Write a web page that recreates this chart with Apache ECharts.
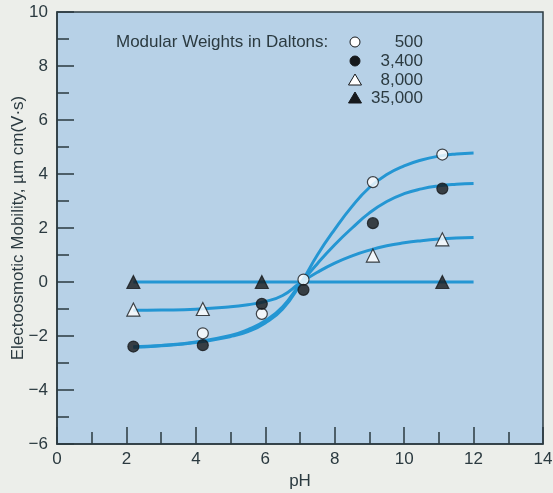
<!DOCTYPE html>
<html>
<head>
<meta charset="utf-8">
<script src="https://cdn.jsdelivr.net/npm/echarts@6/dist/echarts.min.js"></script>
<style>
  html, body { margin: 0; padding: 0; background: #eceeea; }
  #chart { width: 553px; height: 493px; }
</style>
</head>
<body>
<div id="chart"></div>
<script>
// Molecular weight groups (Daltons)
const weightLabels = ['500', '3,400', '8,000', '35,000'];

// Measured electroosmotic mobility vs pH, one list per weight
const points500   = [[4.2, -1.9], [5.9, -1.18], [7.1, 0.09], [9.1, 3.7], [11.1, 4.72]];
const points3400  = [[2.2, -2.39], [4.2, -2.34], [5.9, -0.81], [7.1, -0.29], [9.1, 2.18], [11.1, 3.46]];
const points8000  = [[2.2, -1.02], [4.2, -1.0], [9.1, 0.98], [11.1, 1.58]];
const points35000 = [[2.2, 0], [5.9, 0], [11.1, 0]];

// Fitted curves, sampled at these pH values
const curvePH    = [2.2, 3, 4, 5, 5.5, 6, 6.5, 7, 7.5, 8, 8.5, 9, 9.5, 10, 10.5, 11, 11.5, 12];
const curve500   = [-2.42, -2.36, -2.24, -2.02, -1.84, -1.52, -1.0, -0.1, 1.0, 1.95, 2.8, 3.5, 3.98, 4.3, 4.52, 4.66, 4.74, 4.78];
const curve3400  = [-2.4, -2.35, -2.22, -1.98, -1.76, -1.44, -0.92, -0.08, 0.68, 1.38, 2.0, 2.56, 2.98, 3.27, 3.45, 3.56, 3.62, 3.65];
const curve8000  = [-1.05, -1.04, -1.01, -0.92, -0.84, -0.72, -0.5, -0.04, 0.36, 0.7, 0.97, 1.18, 1.34, 1.45, 1.53, 1.59, 1.63, 1.65];
const curve35000PH = [2.2, 12];
const curve35000 = [0, 0];

// Axis tick values
const xTicks = [0, 2, 4, 6, 8, 10, 12, 14];
const yTicks = [-6, -4, -2, 0, 2, 4, 6, 8, 10];

const FONT = '"Liberation Sans", Arial, Helvetica, sans-serif';
const INK = '#2b3a40';
const CURVE = '#2496d3';
const DARK = '#16191c';

const zip = (xs, ys) => xs.map((x, i) => [x, ys[i]]);
const minus = v => String(v).replace('-', '\u2212');

function curveSeries(xs, ys) {
  return {
    type: 'line', data: zip(xs, ys), smooth: 0.5, showSymbol: false,
    lineStyle: { color: CURVE, width: 3 }, z: 2, silent: true
  };
}
function pointSeries(data, symbol, fill) {
  return {
    type: 'scatter', data, symbol, symbolSize: symbol === 'circle' ? 11 : 13,
    itemStyle: { color: fill, borderColor: DARK, borderWidth: 1.2 }, z: 5
  };
}

// Legend block: symbol + right-aligned weight label
const legendRows = [
  { sym: 'circle', fill: '#ffffff' },
  { sym: 'circle', fill: DARK },
  { sym: 'triangle', fill: '#ffffff' },
  { sym: 'triangle', fill: DARK }
];
const legendY = [42, 61, 80, 98];
const legendGraphics = [{
  type: 'text', x: 116, y: 42,
  style: { text: 'Modular Weights in Daltons:', font: '17px ' + FONT, fill: INK, verticalAlign: 'middle' }
}];
legendRows.forEach((r, i) => {
  const cy = legendY[i];
  if (r.sym === 'circle') {
    legendGraphics.push({ type: 'circle', shape: { cx: 355, cy, r: 5 },
      style: { fill: r.fill, stroke: DARK, lineWidth: 1 } });
  } else {
    legendGraphics.push({ type: 'polygon',
      shape: { points: [[355, cy - 6], [361.5, cy + 5], [348.5, cy + 5]] },
      style: { fill: r.fill, stroke: DARK, lineWidth: 1 } });
  }
  legendGraphics.push({ type: 'text', x: 423, y: cy,
    style: { text: weightLabels[i], font: '17px ' + FONT, fill: INK, align: 'right', verticalAlign: 'middle' } });
});

const chart = echarts.init(document.getElementById('chart'), null, { renderer: 'canvas' });
chart.setOption({
  backgroundColor: '#eceeea',
  animation: false,
  grid: {
    left: 57, top: 12, right: 10, bottom: 49, show: true, containLabel: false,
    outerBoundsMode: 'none',
    backgroundColor: '#b7d1e7', borderColor: INK, borderWidth: 1.5
  },
  xAxis: {
    type: 'value', min: xTicks[0], max: xTicks[xTicks.length - 1], interval: 2,
    name: 'pH', nameLocation: 'middle', nameGap: 29, nameMoveOverlap: false,
    nameTextStyle: { fontFamily: FONT, fontSize: 17, color: INK },
    axisLine: { onZero: false, lineStyle: { color: INK, width: 1.5 } },
    axisTick: { inside: true, length: 17, lineStyle: { color: INK, width: 1.5 } },
    minorTick: { show: true, splitNumber: 2, length: 12, lineStyle: { color: INK, width: 1.5 } },
    splitLine: { show: false },
    axisLabel: { margin: 7, fontFamily: FONT, fontSize: 17, color: INK, formatter: minus }
  },
  yAxis: {
    type: 'value', min: yTicks[0], max: yTicks[yTicks.length - 1], interval: 2,
    name: 'Electoosmotic Mobility, \u00b5m cm(V\u00b7s)', nameLocation: 'middle', nameGap: 30,
    nameMoveOverlap: false,
    nameTextStyle: { fontFamily: FONT, fontSize: 17, color: INK },
    axisLine: { onZero: false, lineStyle: { color: INK, width: 1.5 } },
    axisTick: { inside: true, length: 17, lineStyle: { color: INK, width: 1.5 } },
    minorTick: { show: true, splitNumber: 2, length: 12, lineStyle: { color: INK, width: 1.5 } },
    splitLine: { show: false },
    axisLabel: { margin: 9, fontFamily: FONT, fontSize: 17, color: INK, formatter: minus }
  },
  graphic: legendGraphics,
  series: [
    curveSeries(curvePH, curve500),
    curveSeries(curvePH, curve3400),
    curveSeries(curvePH, curve8000),
    curveSeries(curve35000PH, curve35000),
    pointSeries(points500, 'circle', '#ffffff'),
    pointSeries(points3400, 'circle', DARK),
    pointSeries(points8000, 'triangle', '#ffffff'),
    pointSeries(points35000, 'triangle', DARK)
  ]
});
</script>
</body>
</html>
